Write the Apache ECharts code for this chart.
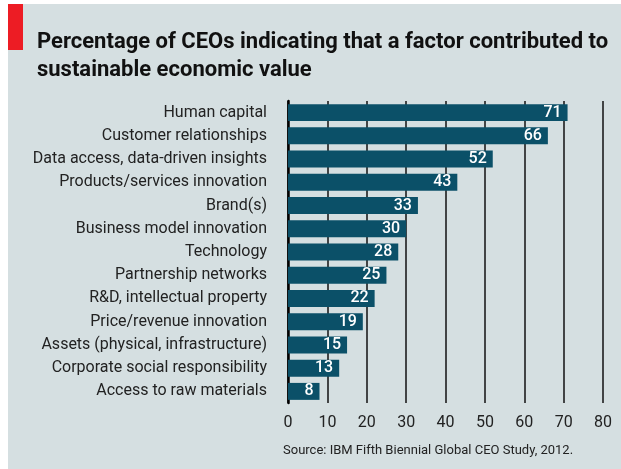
<!DOCTYPE html>
<html>
<head>
<meta charset="utf-8">
<script src="https://cdn.jsdelivr.net/npm/echarts@6/dist/echarts.min.js"></script>
<style>
  html, body { margin: 0; padding: 0; background: #ffffff; }
  #chart { position: absolute; left: 8px; top: 4px; width: 613px; height: 465px; }
</style>
</head>
<body>
<div id="chart"></div>
<script>
// factors, top to bottom
const factors = [
  'Human capital',
  'Customer relationships',
  'Data access, data-driven insights',
  'Products/services innovation',
  'Brand(s)',
  'Business model innovation',
  'Technology',
  'Partnership networks',
  'R&D, intellectual property',
  'Price/revenue innovation',
  'Assets (physical, infrastructure)',
  'Corporate social responsibility',
  'Access to raw materials'
];
// % of CEOs
const percentages = [71, 66, 52, 43, 33, 30, 28, 25, 22, 19, 15, 13, 8];
const xTicks = [0, 10, 20, 30, 40, 50, 60, 70, 80];

const font = 'Roboto, sans-serif';
const chart = echarts.init(document.getElementById('chart'));

chart.setOption({
  backgroundColor: '#d5dfe1',
  animation: false,
  title: [
    {
      text: 'Percentage of CEOs indicating that a factor contributed to\nsustainable economic value',
      left: 29,
      top: 24,
      padding: 0,
      textStyle: { fontFamily: font, fontSize: 22, fontWeight: 'bold', color: '#111', lineHeight: 28 }
    },
    {
      text: 'Source: IBM Fifth Biennial Global CEO Study, 2012.',
      left: 275,
      top: 440,
      padding: 0,
      textStyle: { fontFamily: font, fontSize: 13, fontWeight: 'normal', color: '#222' }
    }
  ],
  graphic: [
    { type: 'rect', left: 0, top: 0, shape: { width: 15, height: 46 }, style: { fill: '#ed1c24' } }
  ],
  grid: { left: 280, right: 18, top: 97, bottom: 66 },
  xAxis: {
    type: 'value',
    min: 0,
    max: 80,
    interval: 10,
    axisLine: { show: false },
    axisTick: { show: false },
    splitLine: { show: true, lineStyle: { color: '#111', width: 1.5 } },
    axisLabel: {
      margin: 12,
      fontFamily: font, fontSize: 16, color: '#222',
      formatter: v => xTicks.includes(v) ? String(v) : ''
    }
  },
  yAxis: {
    type: 'category',
    inverse: true,
    data: factors,
    axisLine: { show: true, lineStyle: { color: '#000', width: 2.5 } },
    axisTick: { show: false },
    axisLabel: { margin: 21, fontFamily: font, fontSize: 16, color: '#222' }
  },
  series: [{
    type: 'bar',
    data: percentages,
    barCategoryGap: '27%',
    itemStyle: { color: '#0b5068' },
    label: {
      show: true,
      position: 'insideRight',
      distance: 6,
      color: '#ffffff',
      fontFamily: font,
      fontSize: 16,
      fontWeight: 500
    }
  }]
});
</script>
</body>
</html>
